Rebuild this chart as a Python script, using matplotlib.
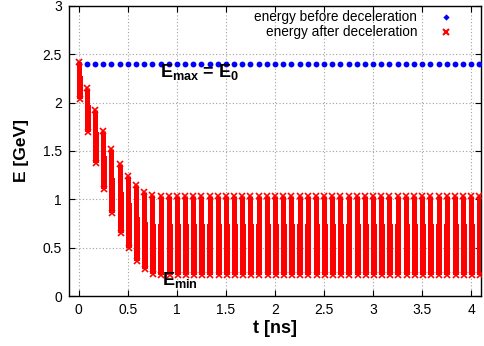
import matplotlib
matplotlib.use("Agg")
import matplotlib.pyplot as plt

# Bunch arrival times [ns]
bunch_time = [0.0, 0.083, 0.167, 0.25, 0.333, 0.417, 0.5, 0.583, 0.667, 0.75,
              0.833, 0.917, 1.0, 1.083, 1.167, 1.25, 1.333, 1.417, 1.5, 1.583,
              1.667, 1.75, 1.833, 1.917, 2.0, 2.083, 2.167, 2.25, 2.333, 2.417,
              2.5, 2.583, 2.667, 2.75, 2.833, 2.917, 3.0, 3.083, 3.167, 3.25,
              3.333, 3.417, 3.5, 3.583, 3.667, 3.75, 3.833, 3.917, 4.0, 4.083]

# Energy before deceleration [GeV]
energy_before = [2.4] * len(bunch_time)

# Energy spread after deceleration [GeV]: upper edge, knee, lower edge per bunch
after_top = [2.42, 2.15, 1.92, 1.71, 1.52, 1.365, 1.24, 1.15, 1.08, 1.04] + [1.03] * 40
after_mid = [2.28, 1.98, 1.70, 1.45, 1.22, 1.08, 0.96, 0.82, 0.77, 0.74] + [0.74] * 40
after_bot = [2.04, 1.70, 1.375, 1.11, 0.86, 0.655, 0.50, 0.365, 0.28, 0.23] + [0.22] * 40

x_ticks = [0, 0.5, 1, 1.5, 2, 2.5, 3, 3.5, 4]
x_tick_labels = ["0", "0.5", "1", "1.5", "2", "2.5", "3", "3.5", "4"]
y_ticks = [0, 0.5, 1, 1.5, 2, 2.5, 3]
y_tick_labels = ["0", "0.5", "1", "1.5", "2", "2.5", "3"]

plt.rcParams["font.family"] = ["Liberation Sans", "DejaVu Sans"]
plt.rcParams["mathtext.default"] = "regular"

RED = "#ff0000"
BLUE = "#0000ff"

fig = plt.figure(figsize=(4.85, 3.46), dpi=100)
ax = fig.add_axes([0.1423, 0.1445, 0.8495, 0.8382])

ax.set_xlim(-0.1, 4.1)
ax.set_ylim(0, 3)

ax.grid(True, color="#a0a0a0", linestyle=(0, (1, 2)), linewidth=0.8)
ax.set_axisbelow(True)

# before deceleration
ax.plot(bunch_time, energy_before, linestyle="none", marker="o",
        markersize=4.2, color=BLUE, markeredgewidth=0, zorder=3)

# after deceleration: each bunch drawn as a column of energies
px = 72.0 / 100.0  # points per pixel
ax.vlines(bunch_time, after_mid, after_top, colors=RED, linewidth=5.0 * px, zorder=4)
ax.vlines([t + 0.008 for t in bunch_time], after_bot, after_mid, colors=RED,
          linewidth=6.0 * px, zorder=4)
ax.plot(bunch_time, after_top, linestyle="none", marker="x", markersize=4.0,
        markeredgewidth=1.2, color=RED, zorder=5)
ax.plot([t + 0.008 for t in bunch_time], after_bot, linestyle="none", marker="x",
        markersize=4.0, markeredgewidth=1.2, color=RED, zorder=5)

ax.set_xticks(x_ticks)
ax.set_xticklabels(x_tick_labels)
ax.set_yticks(y_ticks)
ax.set_yticklabels(y_tick_labels)
ax.tick_params(direction="in", top=True, right=True, length=4, width=0.8,
               labelsize=10, colors="black", pad=5)
for s in ax.spines.values():
    s.set_linewidth(1.0)

ax.set_xlabel("t [ns]", fontsize=13, fontweight="bold", labelpad=2)
ax.set_ylabel("E [GeV]", fontsize=12.5, fontweight="bold", labelpad=10)

ax.text(0.83, 2.27, "E$_{max}$ = E$_0$", fontsize=13, fontweight="bold",
        ha="left", va="baseline", zorder=6)
ax.text(0.85, 0.114, "E$_{min}$", fontsize=13, fontweight="bold",
        ha="left", va="baseline", zorder=6)

# key
ax.text(0.8447, 0.961, "energy before deceleration", transform=ax.transAxes,
        ha="right", va="center", fontsize=9.8)
ax.text(0.8447, 0.911, "energy after deceleration", transform=ax.transAxes,
        ha="right", va="center", fontsize=9.8)
ax.plot([0.914], [0.961], transform=ax.transAxes, linestyle="none", marker="D",
        markersize=3.2, color=BLUE, markeredgewidth=0)
ax.plot([0.914], [0.911], transform=ax.transAxes, linestyle="none", marker="x",
        markersize=4, color=RED, markeredgewidth=1.5)

fig.savefig("out.png", dpi=100)
